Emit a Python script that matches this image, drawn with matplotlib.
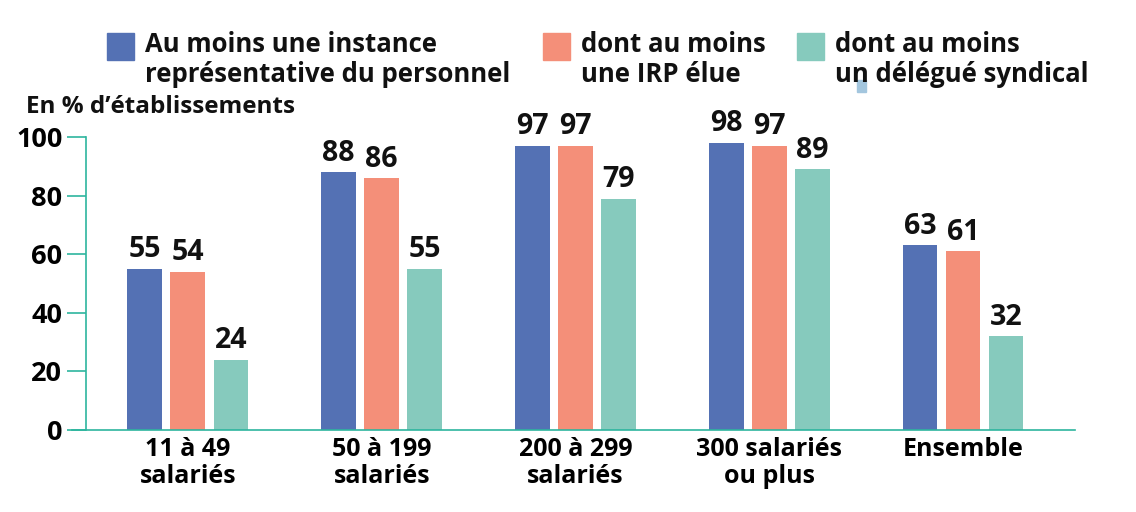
import numpy as np
import matplotlib
matplotlib.use("Agg")
from matplotlib import pyplot as plt
from matplotlib.patches import Rectangle

categories = ["11 à 49\nsalariés", "50 à 199\nsalariés", "200 à 299\nsalariés", "300 salariés\nou plus", "Ensemble"]
series_names = ["Au moins une instance\nreprésentative du personnel", "dont au moins\nune IRP élue", "dont au moins\nun délégué syndical"]
instance = [55, 88, 97, 98, 63]
irp = [54, 86, 97, 97, 61]
delegue = [24, 55, 79, 89, 32]
yticks = [0, 20, 40, 60, 80, 100]

colors = ["#5471B4", "#F48F79", "#86CABD"]
spine_col = "#2DB59E"
plt.rcParams["font.family"] = ["Open Sans", "DejaVu Sans"]

fig = plt.figure(figsize=(11.36, 5.12), dpi=100)
ax = fig.add_axes([86/1136, 1-430/512, (1075-86)/1136, (430-137)/512])

x = np.arange(len(categories))
w = 0.18
step = 0.222
for i, vals in enumerate([instance, irp, delegue]):
    bars = ax.bar(x + (i-1)*step, vals, width=w, color=colors[i])
    for b, v in zip(bars, vals):
        ax.text(b.get_x() + b.get_width()/2, v + 1.5, str(v), ha="center", va="bottom",
                fontsize=20.5, fontweight="bold", color="#111111")

ax.set_xlim(-0.526, 4.578)
ax.set_ylim(0, 100)
ax.set_yticks(yticks)
ax.set_yticklabels([str(t) for t in yticks], fontsize=19.5, fontweight="bold")
ax.set_xticks(x)
ax.set_xticklabels(categories, fontsize=18, fontweight="bold", linespacing=1.1)
ax.tick_params(axis="x", length=0, pad=5)
ax.tick_params(axis="y", length=14, width=1.2, color=spine_col, pad=3)
for s in ["top", "right"]:
    ax.spines[s].set_visible(False)
for s in ["left", "bottom"]:
    ax.spines[s].set_color(spine_col)
    ax.spines[s].set_linewidth(1.2)
ax.spines["bottom"].set_bounds(-0.6, 4.578)
ax.spines["bottom"].set_clip_on(False)

fig.text(26/1136, 1-107/512, "En % d’établissements", fontsize=17.5, fontweight="bold",
         ha="left", va="center", color="#111111")

# legende manuelle
leg_x = [107, 543, 797]
for i, name in enumerate(series_names):
    fig.add_artist(Rectangle((leg_x[i]/1136, 1-60/512), 27/1136, 27/512,
                             transform=fig.transFigure, color=colors[i]))
    fig.text((leg_x[i]+38)/1136, 1-31/512, name, fontsize=18.5, fontweight="bold",
             ha="left", va="top", linespacing=1.12, color="#111111")

# petit artefact bleu present dans l'original
fig.add_artist(Rectangle((857/1136, 1-92/512), 9/1136, 12/512,
                         transform=fig.transFigure, color="#A3C6DE"))

fig.savefig("out.png", dpi=100)
